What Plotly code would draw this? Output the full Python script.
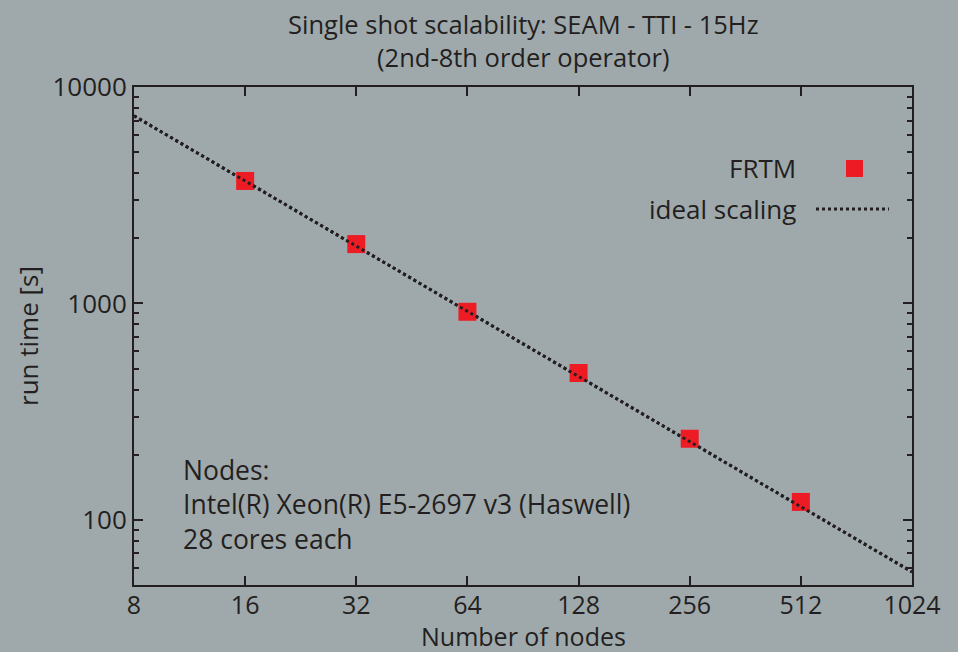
import plotly.graph_objects as go

nodes = [16, 32, 64, 128, 256, 512]
frtm_time = [3680, 1880, 915, 477, 237, 121]
ideal_nodes = [8, 1024]
ideal_time = [7360, 57.5]
x_ticks = [8, 16, 32, 64, 128, 256, 512, 1024]
y_ticks = [100, 1000, 10000]

BG = "#9fa9ac"
INK = "#231f20"
RED = "#ed1c24"
FONT = "Open Sans"
FS = 26

fig = go.Figure()
fig.add_trace(go.Scatter(x=ideal_nodes, y=ideal_time, mode="lines",
                         line=dict(color=INK, width=3, dash="dot"),
                         showlegend=False, hoverinfo="skip"))
fig.add_trace(go.Scatter(x=nodes, y=frtm_time, mode="markers",
                         marker=dict(symbol="square", size=18, color=RED, line=dict(width=0)),
                         showlegend=False))
fig.add_trace(go.Scatter(x=ideal_nodes, y=ideal_time, mode="lines",
                         line=dict(color=INK, width=3, dash="dot"),
                         showlegend=False, hoverinfo="skip"))

axis_common = dict(showline=True, linecolor=INK, linewidth=2, mirror="ticks",
                   ticks="inside", tickcolor=INK, tickwidth=1.5, showgrid=False,
                   zeroline=False)

fig.update_xaxes(type="log", range=[0.90309, 3.0103], tickvals=x_ticks,
                 ticktext=[str(v) for v in x_ticks], ticklen=9,
                 tickfont=dict(size=25, color=INK, family=FONT),
                 ticklabelstandoff=-3, **axis_common)
fig.update_yaxes(type="log", range=[1.699, 4.0], tickvals=y_ticks,
                 ticktext=[str(v) for v in y_ticks], ticklen=9,
                 tickfont=dict(size=FS, color=INK, family=FONT),
                 minor=dict(ticks="inside", ticklen=5, tickcolor=INK, dtick="D1", showgrid=False),
                 **axis_common)

def px(x):
    return (x - 134) / 778.0

def py(y):
    return (585 - y) / 498.0

def note(text, x, y, xanchor="left", angle=0, size=FS):
    return dict(text=text, x=px(x), y=py(y), xref="paper", yref="paper",
                xanchor=xanchor, yanchor="middle", showarrow=False, textangle=angle,
                align=xanchor if xanchor != "center" else "center",
                font=dict(size=size, color=INK, family=FONT))

annotations = [
    note("Single shot scalability: SEAM - TTI - 15Hz<br>(2nd-8th order operator)", 523, 41, "center", size=25.5),
    note("Number of nodes", 523, 636, "center", size=25),
    note("run time [s]", 28, 336, "center", -90),
    note("FRTM", 798, 168, "right"),
    note("ideal scaling", 798, 209, "right"),
    note("Nodes:<br>Intel(R) Xeon(R) E5-2697 v3 (Haswell)<br>28 cores each", 181, 504, size=26.5),
]

shapes = [
    dict(type="rect", xref="paper", yref="paper", x0=px(846), x1=px(863), y0=py(177), y1=py(160),
         fillcolor=RED, line=dict(width=0)),
    dict(type="line", xref="paper", yref="paper", x0=px(816), x1=px(889), y0=py(209), y1=py(209),
         line=dict(color=INK, width=3, dash="dot")),
]

fig.update_layout(
    width=958, height=652,
    margin=dict(l=134, r=46, t=87, b=67),
    paper_bgcolor=BG, plot_bgcolor=BG,
    font=dict(family=FONT, color=INK),
    showlegend=False,
    annotations=annotations, shapes=shapes,
)

fig.write_html("out.html", config={"displayModeBar": False},
               post_script="document.body.style.margin='0';document.body.style.padding='0';document.body.style.overflow='hidden';document.body.style.background='%s';" % BG)
